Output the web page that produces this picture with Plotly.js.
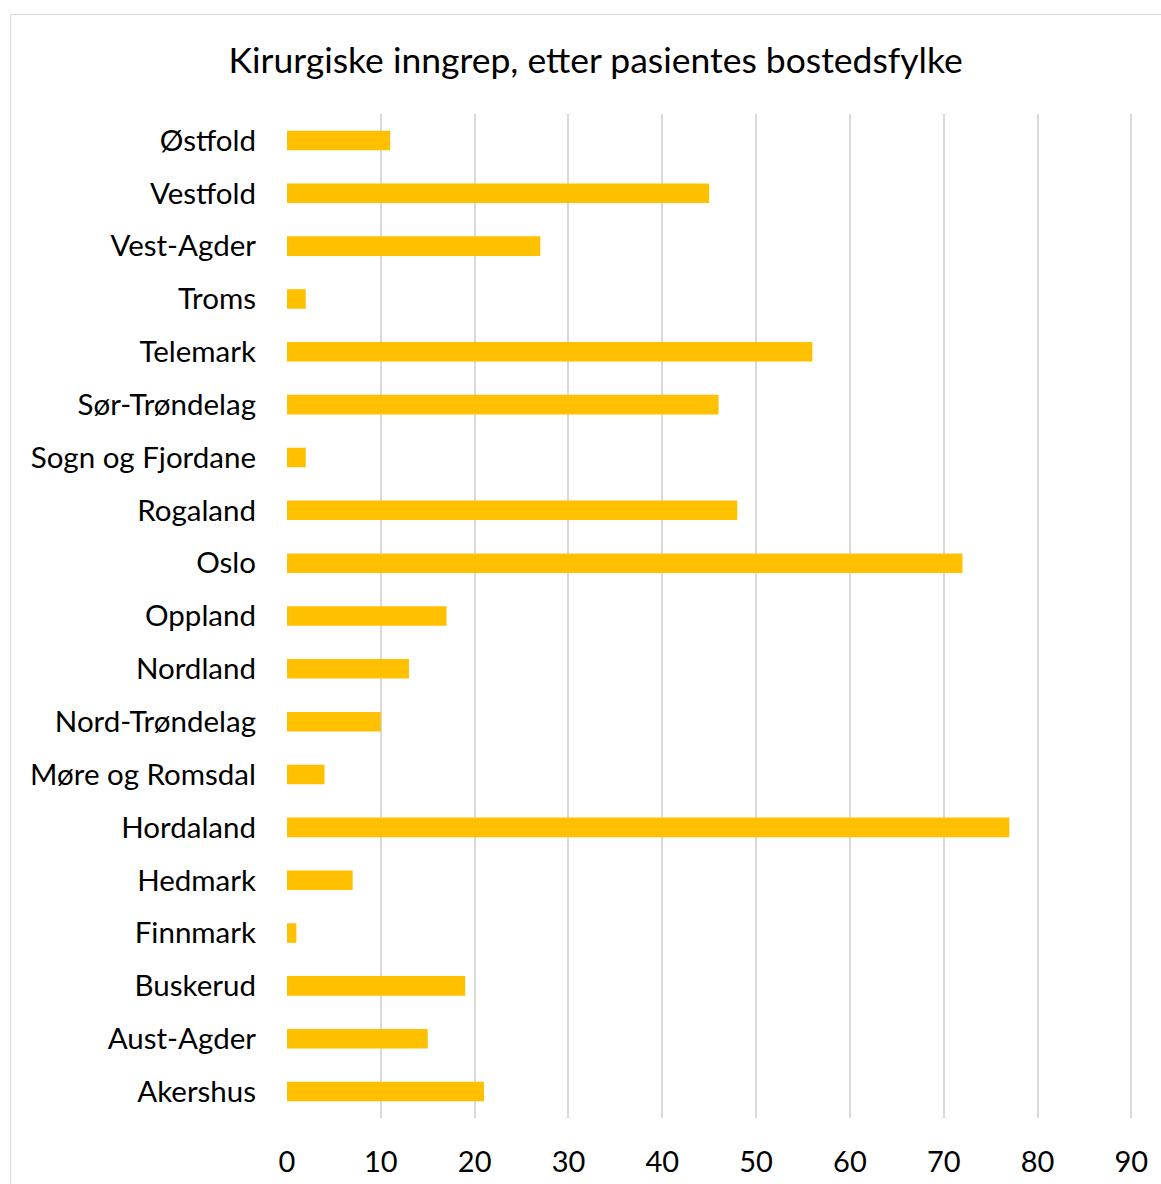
<!DOCTYPE html>
<html>
<head>
<meta charset="utf-8">
<script src="https://cdn.plot.ly/plotly-3.0.1.min.js"></script>
<style>
html,body{margin:0;padding:0;background:#fff;overflow:hidden;}
#chart{width:1161px;height:1184px;position:relative;}
#frame{position:absolute;left:10px;top:14px;width:1170px;height:1200px;border:1.5px solid #d9d9d9;pointer-events:none;}
</style>
</head>
<body>
<div id="chart"></div>
<div id="frame"></div>
<script>
const fylker = ["Akershus","Aust-Agder","Buskerud","Finnmark","Hedmark","Hordaland","Møre og Romsdal","Nord-Trøndelag","Nordland","Oppland","Oslo","Rogaland","Sogn og Fjordane","Sør-Trøndelag","Telemark","Troms","Vest-Agder","Vestfold","Østfold"];
const inngrep = [21,15,19,1,7,77,4,10,13,17,72,48,2,46,56,2,27,45,11];
const xTicks = [0,10,20,30,40,50,60,70,80,90];
const chartTitle = "Kirurgiske inngrep, etter pasientes bostedsfylke";

const font = "Lato, 'Open Sans', sans-serif";
Plotly.newPlot("chart", [{
  type: "bar",
  orientation: "h",
  y: fylker,
  x: inngrep,
  marker: {color: "#FFC000"},
  hoverinfo: "x+y"
}], {
  width: 1161, height: 1184,
  paper_bgcolor: "#fff", plot_bgcolor: "#fff",
  margin: {l: 287, r: 25, t: 114, b: 66},
  bargap: 0.63,
  title: {text: chartTitle, font: {family: font, size: 35.5, color: "#000"}, x: 0.513, xanchor: "center", y: 0.949, yanchor: "middle"},
  xaxis: {
    range: [0, 90.5], tickvals: xTicks, showgrid: true, gridcolor: "#d9d9d9", gridwidth: 1.5,
    zeroline: false, showline: false, ticks: "", ticklabelstandoff: 24,
    tickfont: {family: font, size: 29, color: "#000"}
  },
  yaxis: {
    type: "category", showgrid: false, zeroline: false, showline: false, ticks: "",
    ticklabelstandoff: 30,
    tickfont: {family: font, size: 29.5, color: "#000"}
  },
  showlegend: false
}, {displayModeBar: false});
</script>
</body>
</html>
